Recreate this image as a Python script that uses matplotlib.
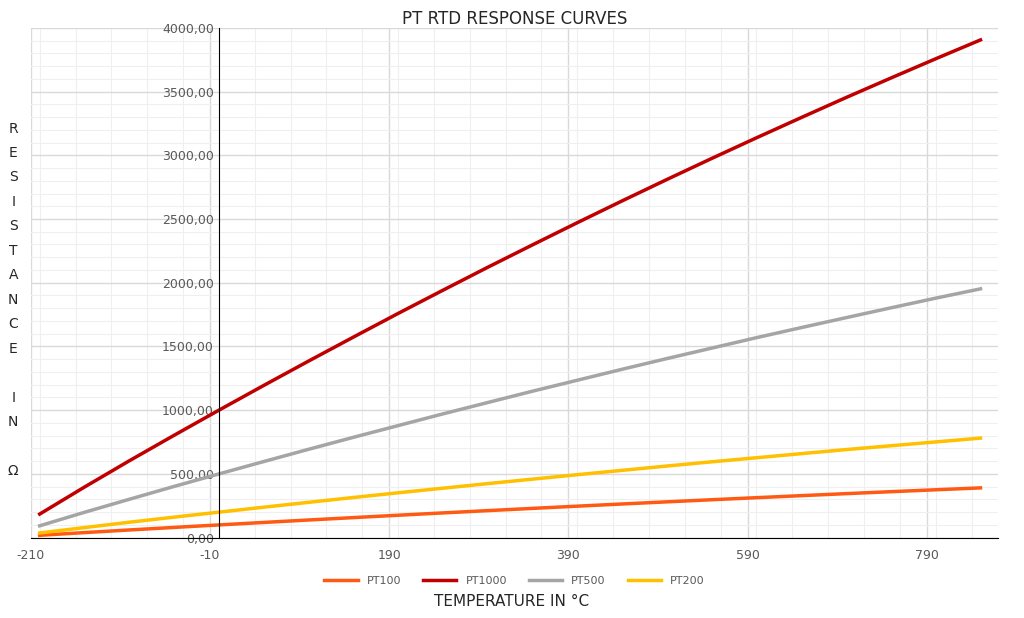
import matplotlib
matplotlib.use("Agg")
import matplotlib.pyplot as plt
from matplotlib.ticker import MultipleLocator, FuncFormatter

plt.rcParams["axes.unicode_minus"] = False

temps = [-200, -150, -100, -50, 0, 50, 100, 150, 200, 250, 300, 350, 400,
         450, 500, 550, 600, 650, 700, 750, 800, 850]
pt100 = [18.5, 39.7, 60.3, 80.3, 100.0, 119.4, 138.5, 157.3, 175.9, 194.1, 212.1,
         229.7, 247.1, 264.2, 281.0, 297.5, 313.7, 329.6, 345.3, 360.6, 375.7, 390.5]
pt1000 = [185, 397, 603, 803, 1000, 1194, 1385, 1573, 1759, 1941, 2121,
          2297, 2471, 2642, 2810, 2975, 3137, 3296, 3453, 3606, 3757, 3905]
pt500 = [93, 199, 301, 402, 500, 597, 693, 787, 879, 971, 1060,
         1149, 1235, 1321, 1405, 1487, 1569, 1648, 1726, 1803, 1879, 1952]
pt200 = [37, 79, 121, 161, 200, 239, 277, 315, 352, 388, 424,
         459, 494, 528, 562, 595, 627, 659, 691, 721, 751, 781]

series = [("PT100", pt100, "#ff5a14"), ("PT1000", pt1000, "#c00000"),
          ("PT500", pt500, "#a5a5a5"), ("PT200", pt200, "#ffc000")]
xticks = [-210, -10, 190, 390, 590, 790]

fig = plt.figure(figsize=(10.24, 6.18), dpi=100)
ax = fig.add_axes([0.03, 0.13, 0.945, 0.825])

for name, vals, color in series:
    ax.plot(temps, vals, color=color, linewidth=2.5, label=name)

ax.set_xlim(-210, 870)
ax.set_ylim(0, 4000)
ax.set_xticks(xticks)
ax.xaxis.set_minor_locator(MultipleLocator(40))
ax.yaxis.set_major_locator(MultipleLocator(500))
ax.yaxis.set_minor_locator(MultipleLocator(100))
ax.yaxis.set_major_formatter(FuncFormatter(lambda v, p: f"{v:.2f}".replace(".", ",")))
ax.grid(which="major", color="#d9d9d9", linewidth=1)
ax.grid(which="minor", color="#efefef", linewidth=0.8)
ax.set_axisbelow(True)

ax.spines["left"].set_position(("data", 0))
for s in ["top", "right"]:
    ax.spines[s].set_visible(False)
ax.tick_params(which="both", length=0, labelsize=9, colors="#595959")
ax.tick_params(axis="x", pad=8)

ax.set_title("PT RTD RESPONSE CURVES", fontsize=12, color="#262626", pad=2)
fig.text(0.5, 0.02, "TEMPERATURE IN °C", ha="center", fontsize=11, color="#262626")
fig.text(0.013, 0.515, "\n".join("RESISTANCE IN Ω"), ha="center", va="center",
         fontsize=10, color="#262626", linespacing=1.95)
ax.legend(loc="upper center", bbox_to_anchor=(0.5, -0.055), ncol=4, frameon=False,
          fontsize=8, labelcolor="#595959", handlelength=3)

fig.savefig("out.png", dpi=100)
